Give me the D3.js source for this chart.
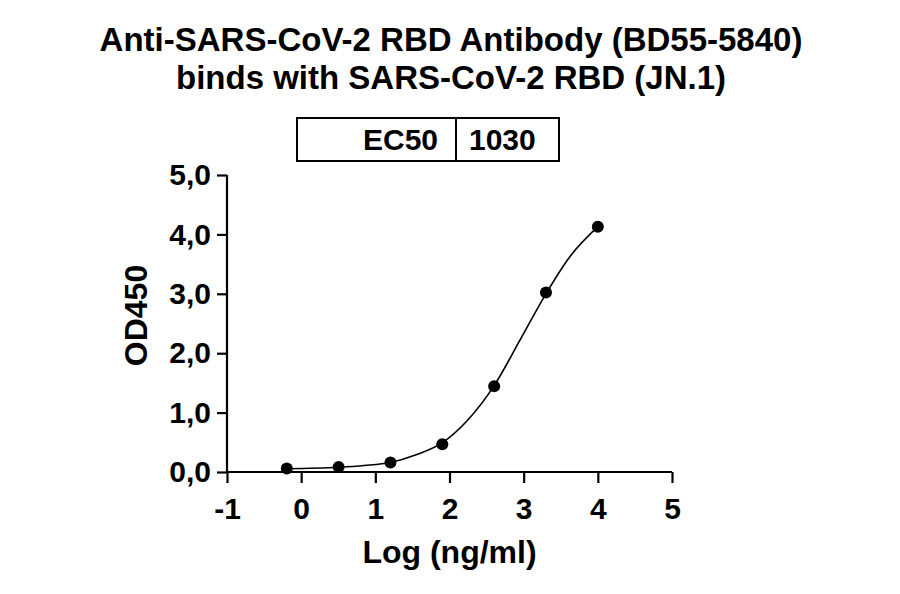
<!DOCTYPE html>
<html>
<head>
<meta charset="UTF-8">
<script src="https://d3js.org/d3.v7.min.js"></script>
<style>
  body { margin: 0; background: #fff; }
  text { font-family: "Liberation Sans", Arial, sans-serif; font-weight: bold; fill: #000; }
</style>
</head>
<body>
<svg width="900" height="594"></svg>
<script>
// measured points: log concentration (ng/ml) vs OD450
const logConc = [-0.194, 0.505, 1.204, 1.903, 2.602, 3.301, 4.0];
const od450 = [0.057, 0.084, 0.158, 0.467, 1.445, 3.02, 4.13];

// fitted curve
const fitX = [-0.194, 0.5, 0.85, 1.2, 1.55, 1.9, 2.25, 2.6, 2.95, 3.3, 3.62, 4.0];
const fitY = [0.055, 0.08, 0.11, 0.16, 0.29, 0.49, 0.88, 1.45, 2.22, 3.0, 3.62, 4.13];

const xTicks = [-1, 0, 1, 2, 3, 4, 5];
const yTicks = [0, 1, 2, 3, 4, 5];

const titleLines = ["Anti-SARS-CoV-2 RBD Antibody (BD55-5840)", "binds with SARS-CoV-2 RBD (JN.1)"];
const tableCells = ["EC50", "1030"];

const svg = d3.select("svg");

// plot area
const plotL = 227, plotR = 672, plotT = 175, plotB = 472;

const x = d3.scaleLinear().domain([-1, 5]).range([plotL, plotR]);
const y = d3.scaleLinear().domain([0, 5]).range([plotB, plotT]);

// title
svg.append("g").selectAll("text")
  .data(titleLines)
  .join("text")
  .attr("x", 451)
  .attr("y", (d, i) => 51 + i * 38)
  .attr("text-anchor", "middle")
  .attr("font-size", "33px")
  .text(d => d);

// EC50 table
const box = svg.append("g");
box.append("rect")
  .attr("x", 297).attr("y", 118)
  .attr("width", 262).attr("height", 43)
  .attr("fill", "none").attr("stroke", "#000").attr("stroke-width", 2);
box.append("line")
  .attr("x1", 456).attr("x2", 456).attr("y1", 118).attr("y2", 161)
  .attr("stroke", "#000").attr("stroke-width", 2);
box.append("text")
  .attr("x", 438).attr("y", 150)
  .attr("text-anchor", "end")
  .attr("font-size", "30px")
  .text(tableCells[0]);
box.append("text")
  .attr("x", 469).attr("y", 150)
  .attr("font-size", "30px")
  .text(tableCells[1]);

// axes
const xAxis = svg.append("g")
  .attr("transform", `translate(0,${plotB})`)
  .call(d3.axisBottom(x).tickValues(xTicks).tickSize(11).tickPadding(15).tickFormat(d => String(d)));

const yAxis = svg.append("g")
  .attr("transform", `translate(${plotL},0)`)
  .call(d3.axisLeft(y).tickValues(yTicks).tickSize(10).tickPadding(6).tickFormat(d => d.toFixed(1).replace(".", ",")));

[xAxis, yAxis].forEach(a => {
  a.select(".domain").attr("stroke-width", 2.2);
  a.selectAll(".tick line").attr("stroke-width", 2.2);
  a.selectAll(".tick text")
    .attr("font-size", "30px")
    .attr("font-family", "Liberation Sans, Arial, sans-serif")
    .attr("font-weight", "bold");
});
xAxis.select(".domain").attr("d", `M${plotL},0H${plotR}`);
yAxis.select(".domain").attr("d", `M0,${plotT}V${plotB}`);

// axis titles
svg.append("text")
  .attr("x", (plotL + plotR) / 2)
  .attr("y", 563)
  .attr("text-anchor", "middle")
  .attr("font-size", "32px")
  .text("Log (ng/ml)");

svg.append("text")
  .attr("transform", `translate(147,${(plotT + plotB) / 2 - 8}) rotate(-90)`)
  .attr("text-anchor", "middle")
  .attr("font-size", "32px")
  .text("OD450");

// fitted curve
const fit = fitX.map((v, i) => [v, fitY[i]]);
svg.append("path")
  .datum(fit)
  .attr("fill", "none")
  .attr("stroke", "#000")
  .attr("stroke-width", 1.6)
  .attr("d", d3.line().x(d => x(d[0])).y(d => y(d[1])).curve(d3.curveMonotoneX));

// data points
svg.append("g").selectAll("circle")
  .data(logConc.map((v, i) => [v, od450[i]]))
  .join("circle")
  .attr("cx", d => x(d[0]))
  .attr("cy", d => y(d[1]))
  .attr("r", 6)
  .attr("fill", "#000");
</script>
</body>
</html>
